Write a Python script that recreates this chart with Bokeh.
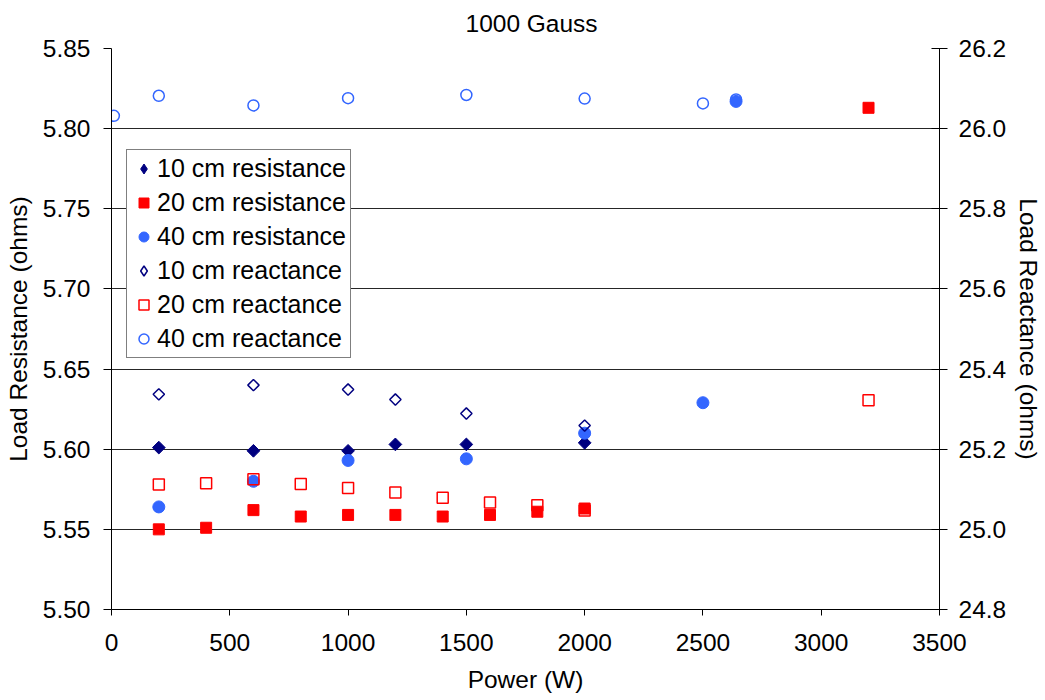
import numpy as np
from bokeh.plotting import figure
from bokeh.models import (Range1d, LinearAxis, FixedTicker, NumeralTickFormatter,
                          Legend, LegendItem)
from bokeh.embed import file_html
from bokeh.resources import INLINE

# Power settings (W) and measured load impedance at 1000 Gauss
power_10 = [200, 600, 1000, 1200, 1500, 2000]
res_10 = [5.601, 5.599, 5.599, 5.603, 5.603, 5.604]
react_10 = [25.337, 25.360, 25.349, 25.324, 25.289, 25.259]

power_20 = [200, 400, 600, 800, 1000, 1200, 1400, 1600, 1800, 2000, 3200]
res_20 = [5.550, 5.551, 5.562, 5.558, 5.559, 5.559, 5.558, 5.559, 5.561, 5.563, 5.813]
react_20 = [25.112, 25.115, 25.125, 25.113, 25.103, 25.092, 25.079, 25.067, 25.060, 25.047, 25.322]

power_40_res = [200, 600, 1000, 1500, 2000, 2500, 2640]
res_40 = [5.564, 5.580, 5.593, 5.594, 5.610, 5.629, 5.817]
power_40_react = [10, 200, 600, 1000, 1500, 2000, 2500, 2640]
react_40 = [26.032, 26.082, 26.058, 26.076, 26.084, 26.075, 26.063, 26.073]

x_ticks = [0, 500, 1000, 1500, 2000, 2500, 3000, 3500]
res_ticks = [5.50, 5.55, 5.60, 5.65, 5.70, 5.75, 5.80, 5.85]
react_ticks = [24.8, 25.0, 25.2, 25.4, 25.6, 25.8, 26.0, 26.2]

FONT = "Liberation Sans"
FS = "24.5px"
NAVY = "#000080"
RED = "#FF0000"
BLUE = "#3366FF"
DIAMOND = np.pi / 4  # squares turned on a corner

p = figure(width=1045, height=700, output_backend="svg", toolbar_location=None,
           x_range=Range1d(0, 3500), y_range=Range1d(5.50, 5.85),
           min_border_left=111, min_border_right=106, min_border_top=48,
           min_border_bottom=91, title="1000 Gauss")
p.extra_y_ranges = {"react": Range1d(24.8, 26.2)}
p.outline_line_color = None
p.background_fill_color = "white"
p.border_fill_color = "white"

p.title.text_font = FONT
p.title.text_font_size = FS
p.title.text_font_style = "normal"
p.title.text_color = "black"
p.title.align = "left"
p.title.offset = 354
p.title.vertical_align = "top"
p.title.standoff = 19

# bottom axis
xa = p.xaxis[0]
xa.ticker = FixedTicker(ticks=x_ticks)
xa.axis_label = "Power (W)"
xa.major_tick_in = 0
xa.major_tick_out = 6
xa.minor_tick_out = 0
xa.minor_tick_in = 0
xa.major_label_standoff = 18
xa.axis_label_standoff = 12

# left axis
ya = p.yaxis[0]
ya.ticker = FixedTicker(ticks=res_ticks)
ya.formatter = NumeralTickFormatter(format="0.00")
ya.axis_label = "Load Resistance (ohms)"
ya.major_tick_in = 0
ya.major_tick_out = 8
ya.minor_tick_out = 0
ya.minor_tick_in = 0
ya.major_label_standoff = 13
ya.axis_label_standoff = 8

# right axis for reactance
ra = LinearAxis(y_range_name="react", ticker=FixedTicker(ticks=react_ticks),
                formatter=NumeralTickFormatter(format="0.0"),
                axis_label="Load Reactance (ohms)")
ra.major_tick_in = 8
ra.major_tick_out = 8
ra.minor_tick_out = 0
ra.minor_tick_in = 0
ra.major_label_standoff = 11
ra.axis_label_standoff = 6
p.add_layout(ra, "right")

for ax in [xa, ya, ra]:
    ax.axis_line_color = "black"
    ax.major_tick_line_color = "black"
    ax.major_label_text_font = FONT
    ax.major_label_text_font_size = FS
    ax.major_label_text_color = "black"
    ax.axis_label_text_font = FONT
    ax.axis_label_text_font_size = FS
    ax.axis_label_text_font_style = "normal"
    ax.axis_label_text_color = "black"

p.xgrid.grid_line_color = None
p.ygrid.ticker = FixedTicker(ticks=res_ticks)
p.ygrid.grid_line_color = "black"
p.ygrid.grid_line_alpha = 0.85

# data markers
r1 = p.scatter(power_10, res_10, marker="square", angle=DIAMOND, size=9,
               fill_color=NAVY, line_color=NAVY)
r2 = p.scatter(power_20, res_20, marker="square", size=11, fill_color=RED,
               line_color=RED)
r3 = p.scatter(power_40_res, res_40, marker="circle", size=12, fill_color=BLUE,
               line_color=BLUE)
r4 = p.scatter(power_10, react_10, marker="square", angle=DIAMOND, size=8,
               fill_color=None, line_color=NAVY, line_width=1.5,
               y_range_name="react")
r5 = p.scatter(power_20, react_20, marker="square", size=11, fill_color=None,
               line_color=RED, line_width=1.5, y_range_name="react")
r6 = p.scatter(power_40_react, react_40, marker="circle", size=11, fill_color=None,
               line_color=BLUE, line_width=1.5, y_range_name="react")

# legend keys for the diamond series (legend glyphs ignore marker angle)
k1 = p.scatter(power_10, res_10, marker="diamond", size=0,
               fill_color=NAVY, line_color=NAVY)
k4 = p.scatter(power_10, react_10, marker="diamond", size=0, fill_color=None,
               line_color=NAVY, line_width=1.5, y_range_name="react")

legend = Legend(items=[
    LegendItem(label="10 cm resistance", renderers=[k1]),
    LegendItem(label="20 cm resistance", renderers=[r2]),
    LegendItem(label="40 cm resistance", renderers=[r3]),
    LegendItem(label="10 cm reactance", renderers=[k4]),
    LegendItem(label="20 cm reactance", renderers=[r5]),
    LegendItem(label="40 cm reactance", renderers=[r6]),
], location=(15, 251))
legend.label_text_font = FONT
legend.label_text_font_size = "25px"
legend.label_text_color = "black"
legend.glyph_width = 25
legend.glyph_height = 29
legend.label_height = 29
legend.spacing = 5
legend.padding = 4
legend.margin = 0
legend.label_standoff = 1
legend.border_line_color = "black"
legend.border_line_width = 1
legend.background_fill_color = "white"
legend.background_fill_alpha = 1.0
p.add_layout(legend, "center")

open("out.html", "w").write(file_html(p, INLINE))
